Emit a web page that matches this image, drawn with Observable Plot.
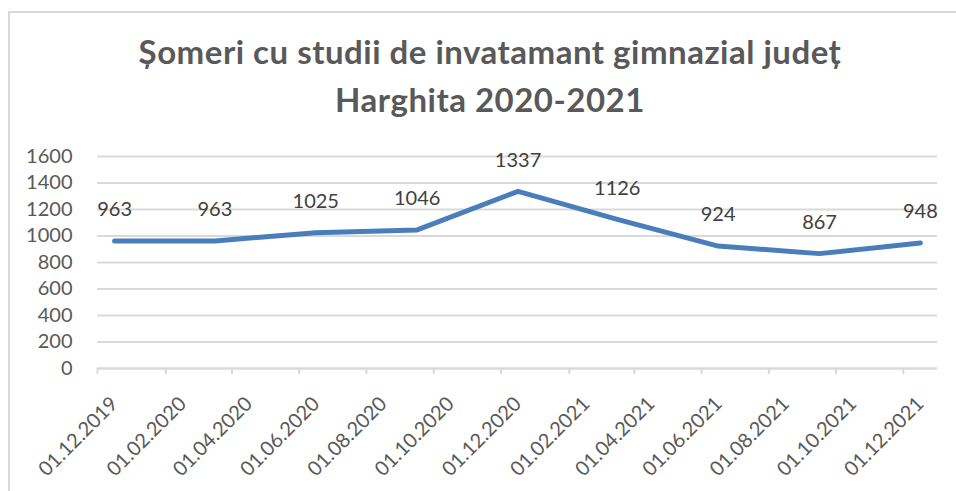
<!DOCTYPE html>
<html>
<head>
<meta charset="utf-8">
<script src="https://cdn.jsdelivr.net/npm/d3@7"></script>
<script src="https://cdn.jsdelivr.net/npm/@observablehq/plot@0.6"></script>
<style>
  html, body { margin: 0; padding: 0; background: #fff; width: 956px; height: 491px; overflow: hidden; }
  #frame { position: absolute; left: 8px; top: 11px; width: 960px; height: 500px;
           border-left: 2px solid #d9d9d9; border-top: 2px solid #d9d9d9; }
  #title { position: absolute; left: 0; top: 27px; width: 980px; text-align: center;
           font-family: Lato, "Open Sans", sans-serif; font-weight: bold; font-size: 33px;
           letter-spacing: 0.5px; line-height: 48px; color: #595959; }
  #chart { position: absolute; left: 0; top: 140px; }
</style>
</head>
<body>
<div id="frame"></div>
<div id="title">Șomeri cu studii de invatamant gimnazial județ<br>Harghita 2020-2021</div>
<div id="chart"></div>
<script>
const dates = ["2019-12-01","2020-03-01","2020-06-01","2020-09-01","2020-12-01","2021-03-01","2021-06-01","2021-09-01","2021-12-01"];
const values = [963, 963, 1025, 1046, 1337, 1126, 924, 867, 948];
const tickDates = ["2019-12-01","2020-02-01","2020-04-01","2020-06-01","2020-08-01","2020-10-01","2020-12-01","2021-02-01","2021-04-01","2021-06-01","2021-08-01","2021-10-01","2021-12-01"];
const yTicks = [0, 200, 400, 600, 800, 1000, 1200, 1400, 1600];

const parse = d3.utcParse("%Y-%m-%d");
// each point sits in the middle of its month slot (date axis with month base unit)
const data = dates.map((d, i) => {
  const s = parse(d);
  const e = d3.utcMonth.offset(s, 1);
  return { date: new Date((+s + +e) / 2), value: values[i] };
});
const ticks = tickDates.map(parse);
const fmt = d3.utcFormat("%d.%m.%Y");
const font = "Lato, 'Open Sans', sans-serif";

const chart = Plot.plot({
  width: 956,
  height: 351,
  marginLeft: 97,
  marginRight: 19,
  marginTop: 16,
  marginBottom: 123,
  style: { fontFamily: font, fontSize: "20px", background: "transparent" },
  x: { type: "utc", domain: [parse("2019-12-01"), parse("2022-01-01")] },
  y: { domain: [0, 1600] },
  marks: [
    Plot.gridY(yTicks, { stroke: "#d9d9d9", strokeOpacity: 1, strokeWidth: 2 }),
    Plot.axisY(yTicks, { tickSize: 0, tickPadding: 25, fill: "#595959", fontSize: 20,
      tickFormat: d => String(d), label: null }),
    Plot.ruleY([0], { stroke: "#d9d9d9", strokeWidth: 2 }),
    Plot.axisX(ticks, { tickSize: 6, stroke: "#d9d9d9", strokeWidth: 2, strokeOpacity: 1,
      tickFormat: () => "", label: null }),
    Plot.axisX(ticks, {
      tickSize: 0, fill: "#595959", fontSize: 20, tickFormat: fmt, tickRotate: -45,
      tickPadding: 10, dx: 17, dy: 22, label: null
    }),
    Plot.line(data, { x: "date", y: "value", stroke: "#4a7ebb", strokeWidth: 5,
      strokeLinejoin: "round", strokeLinecap: "round" }),
    Plot.text(data, { x: "date", y: "value", text: d => String(d.value), dy: -31,
      fill: "#404040", fontSize: 20 })
  ]
});
document.getElementById("chart").appendChild(chart);
</script>
</body>
</html>
